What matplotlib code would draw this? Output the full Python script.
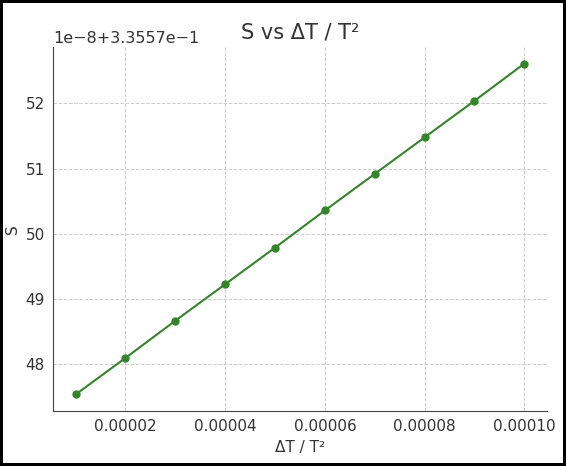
import matplotlib
matplotlib.use("Agg")
import matplotlib.pyplot as plt
import numpy as np

x_vals = [0.00001, 0.00002, 0.00003, 0.00004, 0.00005, 0.00006, 0.00007, 0.00008, 0.00009, 0.00010]
s_units = [47.54, 48.10, 48.67, 49.23, 49.79, 50.36, 50.92, 51.48, 52.04, 52.61]
s_vals = [0.33557 + v * 1e-8 for v in s_units]

fig = plt.figure(figsize=(5.66, 4.66), dpi=100)
fig.patch.set_edgecolor("black")
fig.patch.set_linewidth(3)
ax = fig.add_axes([0.094, 0.118, 0.872, 0.781])

ax.plot(x_vals, s_vals, color="#34852a", marker="o", markersize=5, linewidth=1.5)

ax.set_title("S vs ΔT / T²", fontsize=15, color="#333333")
ax.set_xlabel("ΔT / T²", fontsize=11, color="#333333")
ax.set_ylabel("S", fontsize=11, color="#333333")

ax.grid(True, linestyle="--", color="#cccccc", linewidth=0.7)
ax.set_axisbelow(True)
for side in ["top", "right"]:
    ax.spines[side].set_visible(False)
for side in ["left", "bottom"]:
    ax.spines[side].set_color("#444444")
ax.tick_params(length=0, labelsize=11, labelcolor="#333333", pad=6)
ax.yaxis.get_offset_text().set_fontsize(11.5)
ax.yaxis.get_offset_text().set_color("#333333")

fig.savefig("out.png", dpi=100, edgecolor=fig.get_edgecolor())
